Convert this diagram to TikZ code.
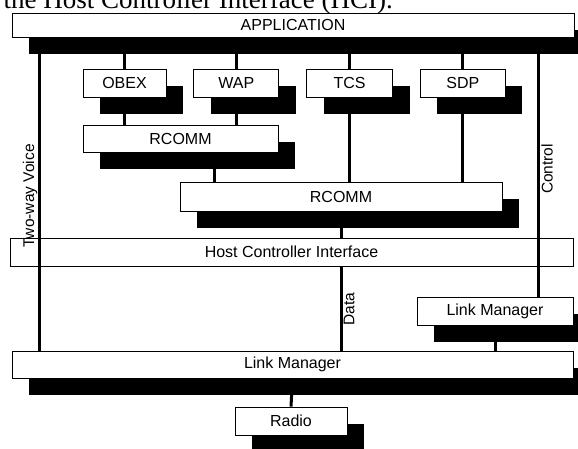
\documentclass[tikz,border=0pt]{standalone}
\usepackage{fontspec}
\newfontfamily\boxfont{Liberation Sans}
\newfontfamily\bodyserif{Liberation Serif}
\usetikzlibrary{positioning,shadows}

\begin{document}
\begin{tikzpicture}[
  x=1pt,y=-1pt,
  node distance=27pt,
  layer/.style={draw,line width=0.8pt,fill=white,inner sep=0pt,
    minimum height=28pt,font=\boxfont\fontsize{16}{19}\selectfont,
    drop shadow={shadow xshift=17pt,shadow yshift=-17pt,fill=black,opacity=1}},
  flat/.style={draw,line width=0.8pt,fill=white,inner sep=0pt,
    minimum height=28pt,font=\boxfont\fontsize{16}{19}\selectfont},
  link/.style={line width=3pt},
  tag/.style={rotate=90,inner sep=0pt,font=\boxfont\fontsize{15.5}{18}\selectfont}
]
\useasboundingbox (0,0) rectangle (578,448);
\node[anchor=base east,inner sep=0pt,font=\bodyserif\fontsize{27}{30}\selectfont]
  (cap) at (393,8) {the Host Controller Interface (HCI).};

\node[layer,minimum width=562pt,minimum height=24pt] (app) at (293,25) {APPLICATION};
\node[layer,minimum width=83pt] (obex) at (124.5,83) {OBEX};
\node[layer,minimum width=85pt,right=of obex] (wap) {WAP};
\node[layer,minimum width=86pt,right=of wap] (tcs) {TCS};
\node[layer,minimum width=85pt,right=of tcs] (sdp) {SDP};
\node[layer,minimum width=195pt,minimum height=27pt] (rcomm1) at (180.5,138.5) {RCOMM};
\node[layer,minimum width=322pt,minimum height=29pt] (rcomm2) at (341,196.5) {RCOMM};
\node[flat,minimum width=563pt] (hci) at (291.5,252) {Host Controller Interface};
\node[layer,minimum width=156pt] (lm) at (495,311) {Link Manager};
\node[layer,minimum width=561pt,minimum height=27pt] (lmb) at (292.5,364.5) {Link Manager};
\node[layer,minimum width=112pt] (radio) at (291,421) {Radio};

\coordinate (voice) at ([xshift=28pt]app.south west);
\coordinate (ctrl) at ([xshift=-36pt]app.south east);
\coordinate (hop) at ([xshift=34pt]rcomm1.south);

\draw[link] (obex.north) -- (obex.north |- app.south);
\draw[link] (wap.north) -- (wap.north |- app.south);
\draw[link] (tcs.north) -- (tcs.north |- app.south);
\draw[link] (sdp.north) -- (sdp.north |- app.south);
\draw[link] (obex.south) -- (obex.south |- rcomm1.north);
\draw[link] (wap.south) -- (wap.south |- rcomm1.north);
\draw[link] (tcs.south) -- (tcs.south |- rcomm2.north);
\draw[link] (sdp.south) -- (sdp.south |- rcomm2.north);
\draw[link] (hop) -- (hop |- rcomm2.north);
\draw[link] (rcomm2.south) -- (rcomm2.south |- hci.north);
\draw[link] (rcomm2.south |- hci.south) -- (rcomm2.south |- lmb.north);
\draw[link] (voice) -- (voice |- lmb.north);
\draw[link] (ctrl) -- (ctrl |- lm.north);
\draw[link] (lm.south) -- (lm.south |- lmb.north);
\draw[link] (lmb.south) -- (radio.north);

\node[tag] (voicetag) at (30,196) {Two-way Voice};
\node[tag] (ctrltag) at (547,169) {Control};
\node[tag] (datatag) at (349,309) {Data};
\end{tikzpicture}
\end{document}
